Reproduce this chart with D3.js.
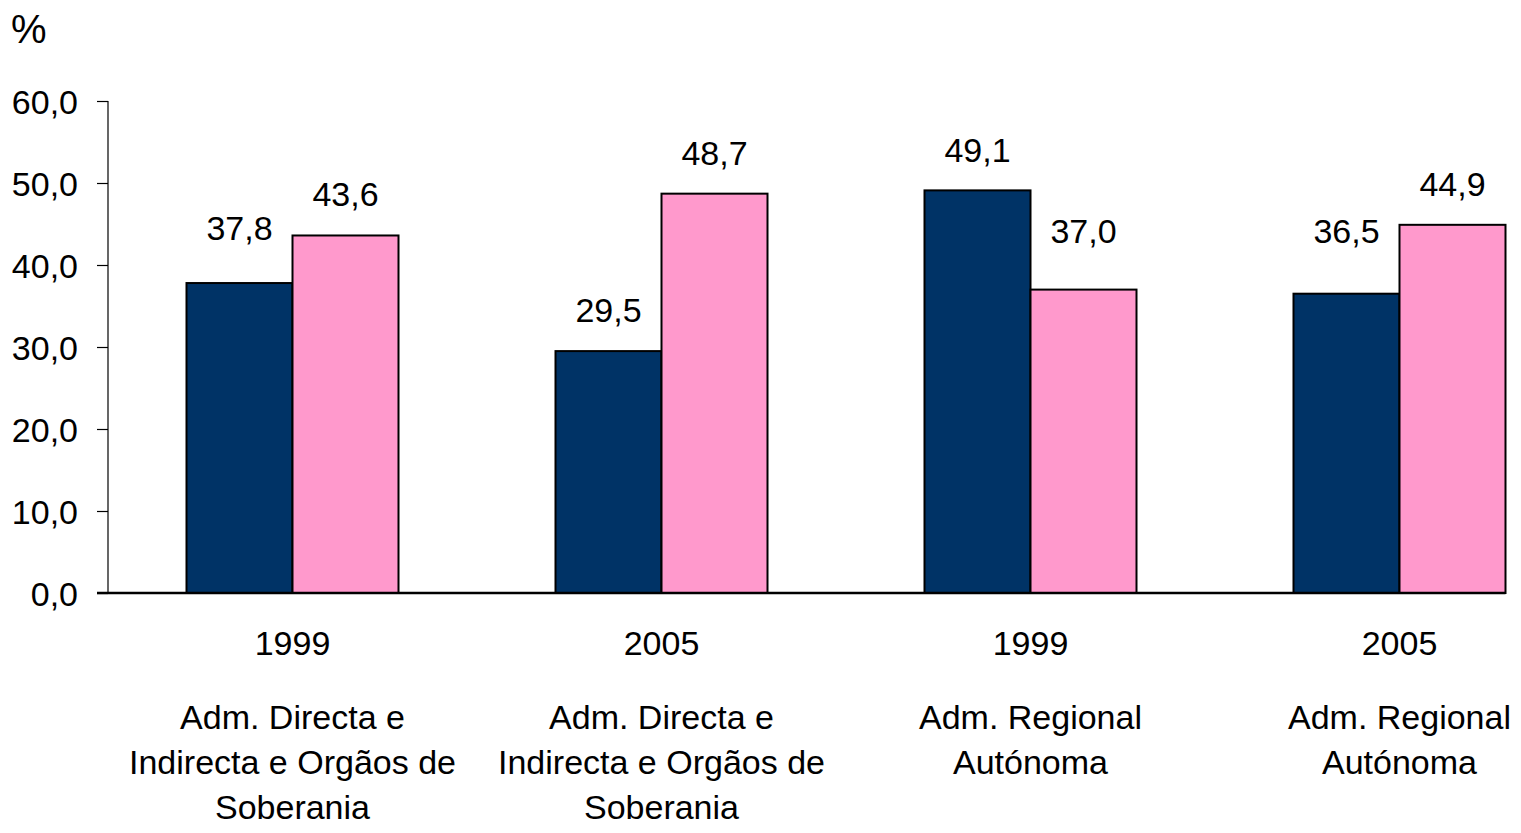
<!DOCTYPE html>
<html>
<head>
<meta charset="utf-8">
<script src="https://cdn.jsdelivr.net/npm/d3@7"></script>
<style>
  html, body { margin: 0; padding: 0; background: #fff; }
  svg { display: block; font-family: "Liberation Sans", Arial, sans-serif; }
</style>
</head>
<body>
<svg id="chart" width="1521" height="833"></svg>
<script>
// Share (%) by administration type and year
const years = ["1999", "2005", "1999", "2005"];
const sectors = [
  ["Adm. Directa e", "Indirecta e Orgãos de", "Soberania"],
  ["Adm. Directa e", "Indirecta e Orgãos de", "Soberania"],
  ["Adm. Regional", "Autónoma"],
  ["Adm. Regional", "Autónoma"]
];
const seriesNames = ["serieA", "serieB"];
const serieA = [37.8, 29.5, 49.1, 36.5];
const serieB = [43.6, 48.7, 37.0, 44.9];
const yTicks = [0, 10, 20, 30, 40, 50, 60];

// Vertical gap between bar top and its value label (px)
const liftA = [43, 29, 28, 51];
const liftB = [29, 29, 47, 29];

const colors = { serieA: "#003366", serieB: "#FF99CC" };

const svg = d3.select("#chart");
const fontSize = 34;

const groupIdx = d3.range(years.length);
const x0 = d3.scaleBand().domain(groupIdx).range([108, 108 + 4 * 369]).padding(0);
const barW = 106;
const y = d3.scaleLinear().domain([0, 60]).range([593, 101]);

// Bars
const rows = [];
groupIdx.forEach(i => {
  rows.push({ g: i, s: "serieA", v: serieA[i], lift: liftA[i] });
  rows.push({ g: i, s: "serieB", v: serieB[i], lift: liftB[i] });
});
const x1 = d3.scaleBand().domain(seriesNames).range([-barW, barW]).padding(0);
const cx = i => x0(i) + x0.bandwidth() / 2;

svg.append("g").selectAll("rect").data(rows).join("rect")
  .attr("x", d => cx(d.g) + x1(d.s))
  .attr("y", d => y(d.v))
  .attr("width", x1.bandwidth())
  .attr("height", d => y(0) - y(d.v))
  .attr("fill", d => colors[d.s])
  .attr("stroke", "#000")
  .attr("stroke-width", 2);

// Value labels
svg.append("g").selectAll("text").data(rows).join("text")
  .attr("x", d => cx(d.g) + x1(d.s) + x1.bandwidth() / 2)
  .attr("y", d => y(d.v) - d.lift)
  .attr("text-anchor", "middle")
  .attr("font-size", fontSize)
  .attr("fill", "#000")
  .text(d => d3.format(".1f")(d.v).replace(".", ","));

// Y axis
const yAxis = d3.axisLeft(y).tickValues(yTicks).tickSize(11).tickPadding(19)
  .tickFormat(d => d3.format(".1f")(d).replace(".", ","));
const yg = svg.append("g").attr("transform", "translate(108,0)").call(yAxis);
yg.select(".domain").attr("stroke", "#000").attr("stroke-width", 1.2).attr("d", `M0,${y(60)}V${y(0)}`);
yg.selectAll(".tick line").attr("stroke", "#000").attr("stroke-width", 1.2);
yg.selectAll(".tick text").attr("font-size", fontSize).attr("fill", "#000")
  .attr("font-family", "'Liberation Sans', Arial, sans-serif").attr("dy", "0.36em");

// X baseline
svg.append("line")
  .attr("x1", 97).attr("x2", cx(3) + barW)
  .attr("y1", y(0)).attr("y2", y(0))
  .attr("stroke", "#000").attr("stroke-width", 2.5);

// Category labels: year then sector lines
const xl = svg.append("g").attr("font-size", fontSize).attr("fill", "#000").attr("text-anchor", "middle");
groupIdx.forEach(i => {
  xl.append("text").attr("x", cx(i)).attr("y", 655).text(years[i]);
  sectors[i].forEach((line, k) => {
    xl.append("text").attr("x", cx(i)).attr("y", 729 + k * 45).text(line);
  });
});

// Unit label
svg.append("text").attr("x", 11).attr("y", 43).attr("font-size", 40).attr("fill", "#000").text("%");
</script>
</body>
</html>
